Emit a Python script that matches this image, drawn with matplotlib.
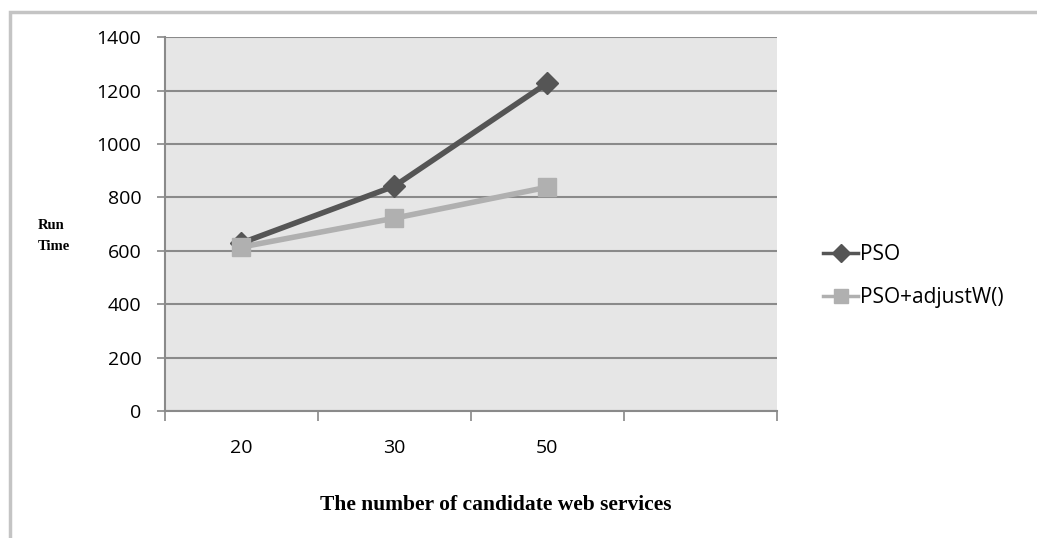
#!/usr/bin/env python3

import matplotlib
matplotlib.use("Agg")
import matplotlib.pyplot as plt
from matplotlib.patches import Rectangle

# Data
categories = ["20", "30", "50", ""]
pso = [629, 842, 1228]
pso_adjust = [614, 722, 838]
y_ticks = [0, 200, 400, 600, 800, 1000, 1200, 1400]

plt.rcParams['font.family'] = ['Open Sans', 'DejaVu Sans']

fig = plt.figure(figsize=(10.37, 5.38), dpi=100)
ax = fig.add_axes([0.159, 0.236, 0.590, 0.695])

# Outer chart frame
fig.patches.append(Rectangle((0.010, -0.05), 1.2, 1.028, transform=fig.transFigure,
                             fill=False, edgecolor="#c4c4c4", linewidth=2.5, zorder=0))

ax.set_facecolor("#e6e6e6")
x = list(range(len(pso)))
ax.plot(x, pso, color="#555555", linewidth=4, marker="D", markersize=11,
        label="PSO", zorder=3)
ax.plot(x, pso_adjust, color="#b0b0b0", linewidth=4, marker="s", markersize=13,
        label="PSO+adjustW()", zorder=3)

# Category axis: ticks between categories
ax.set_xlim(-0.5, len(categories) - 0.5)
ax.set_xticks([i - 0.5 for i in range(len(categories) + 1)], minor=False)
ax.set_xticklabels([])
ax.set_xticks(range(len(categories)), minor=True)
ax.set_xticklabels(categories, minor=True)
ax.tick_params(axis="x", which="major", length=7, width=1.2, color="#888888", direction="out")
ax.tick_params(axis="x", which="minor", length=0, pad=20, labelsize=14)

ax.set_ylim(0, 1400)
ax.set_yticks(y_ticks)
ax.tick_params(axis="y", length=6, width=1.2, color="#888888", pad=11, labelsize=14)
ax.yaxis.grid(True, color="#8a8a8a", linewidth=1.5)
ax.set_axisbelow(True)

for side in ["top", "right"]:
    ax.spines[side].set_visible(False)
for side in ["left", "bottom"]:
    ax.spines[side].set_color("#8a8a8a")
    ax.spines[side].set_linewidth(1.5)

# Axis titles
fig.text(0.036, 0.561, "Run\nTime", fontfamily="Liberation Serif", fontweight="bold",
         fontsize=10.5, va="center", ha="left", linespacing=1.75)
fig.text(0.478, 0.061, "The number of candidate web services", fontfamily="Liberation Serif",
         fontweight="bold", fontsize=15.5, ha="center", va="center")

leg = ax.legend(loc="center left", bbox_to_anchor=(1.045, 0.36), frameon=False, fontsize=15,
                handlelength=1.7, handletextpad=0.1, labelspacing=1.05, markerscale=0.8)
for line in leg.get_lines():
    line.set_linewidth(2.5)

fig.savefig("out.png", dpi=100)
